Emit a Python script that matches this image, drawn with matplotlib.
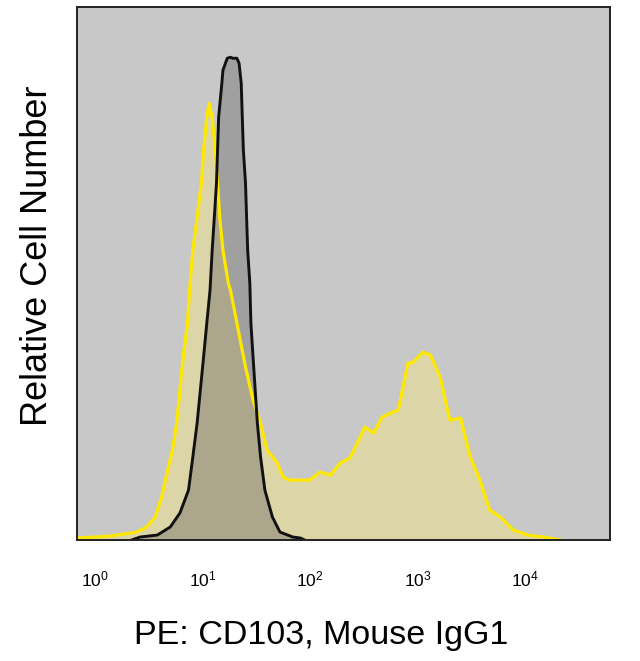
import matplotlib
matplotlib.use("Agg")
import matplotlib.pyplot as plt
import numpy as np
from matplotlib import font_manager

# log10 fluorescence (PE) and relative counts
isotype_log = [0.34, 0.42, 0.58, 0.70, 0.79, 0.87, 0.91, 0.95, 0.98, 1.01, 1.04,
               1.07, 1.09, 1.11, 1.13, 1.14, 1.15, 1.18, 1.19, 1.23, 1.26, 1.28,
               1.32, 1.34, 1.36, 1.37, 1.38, 1.40, 1.41, 1.42, 1.44, 1.45, 1.47,
               1.49, 1.51, 1.54, 1.58, 1.65, 1.72, 1.84, 1.91, 1.95]
isotype_cnt = [0, 3, 5, 13, 27, 50, 83, 117, 150, 183, 217,
               250, 290, 323, 357, 390, 423, 457, 470, 482, 483, 482,
               482, 477, 457, 423, 390, 357, 323, 290, 257, 217, 183,
               150, 117, 83, 50, 23, 8, 3, 2, 0]

cd103_log = [-0.17, 0.0, 0.14, 0.33, 0.39, 0.48, 0.56, 0.62, 0.67, 0.72, 0.76,
             0.79, 0.82, 0.86, 0.88, 0.91, 0.95, 0.99, 1.01, 1.04, 1.06, 1.09,
             1.12, 1.14, 1.16, 1.19, 1.24, 1.26, 1.32, 1.40, 1.47, 1.54, 1.60,
             1.69, 1.75, 1.81, 2.00, 2.09, 2.19, 2.28, 2.37, 2.44, 2.51,
             2.59, 2.67, 2.77, 2.82, 2.91, 2.96, 3.05, 3.12, 3.21, 3.30, 3.40,
             3.49, 3.58, 3.67, 3.77, 3.89, 4.02, 4.17, 4.33]
cd103_cnt = [2, 3, 4, 7, 8, 13, 23, 43, 67, 90, 117,
             150, 183, 217, 250, 290, 323, 357, 390, 423, 437, 423,
             390, 357, 323, 290, 257, 250, 217, 173, 140, 117, 90,
             78, 63, 60, 60, 68, 65, 77, 82, 97, 113,
             107, 123, 128, 130, 177, 178, 188, 185, 163, 120, 122,
             83, 60, 30, 23, 10, 5, 3, 0]

decades = [0, 1, 2, 3, 4]
tick_labels = [r"$\mathregular{10^{%d}}$" % d for d in decades]

names = {f.name for f in font_manager.fontManager.ttflist}
tick_font = "Liberation Sans Narrow" if "Liberation Sans Narrow" in names else "Liberation Sans"

x_iso = np.power(10.0, isotype_log)
x_cd = np.power(10.0, cd103_log)

fig = plt.figure(figsize=(6.4, 6.61), dpi=100)
ax = fig.add_axes([0.1203, 0.183, 0.833, 0.806])
ax.set_facecolor("#c8c8c8")

ax.fill_between(x_cd, 0, cd103_cnt, color="#dcd5a7", linewidth=0)
ax.plot(x_cd, cd103_cnt, color="#ffe800", linewidth=2.3, solid_joinstyle="round")
ax.fill_between(x_iso, 0, isotype_cnt, color="#646464", alpha=0.4, linewidth=0)
ax.plot(x_iso, isotype_cnt, color="#111111", linewidth=2.1, solid_joinstyle="round")

ax.set_xscale("log")
ax.set_xlim(10 ** -0.167, 10 ** 4.79)
ax.set_ylim(0, 533)

ax.set_xticks([10.0 ** d for d in decades])
ax.set_xticklabels(tick_labels, fontfamily=tick_font, fontsize=12.5)
ax.xaxis.set_minor_locator(matplotlib.ticker.NullLocator())
ax.tick_params(axis="x", length=0, pad=21)
ax.set_yticks([])

for s in ax.spines.values():
    s.set_linewidth(1.4)
    s.set_color("#222222")

fig.text(0.058, 0.613, "Relative Cell Number", rotation=90, ha="center", va="center",
         fontfamily="Liberation Sans", fontsize=26)
fig.text(0.502, 0.039, "PE: CD103, Mouse IgG1", ha="center", va="center",
         fontfamily="Liberation Sans", fontsize=24.5)

plt.savefig("out.png", dpi=100)
